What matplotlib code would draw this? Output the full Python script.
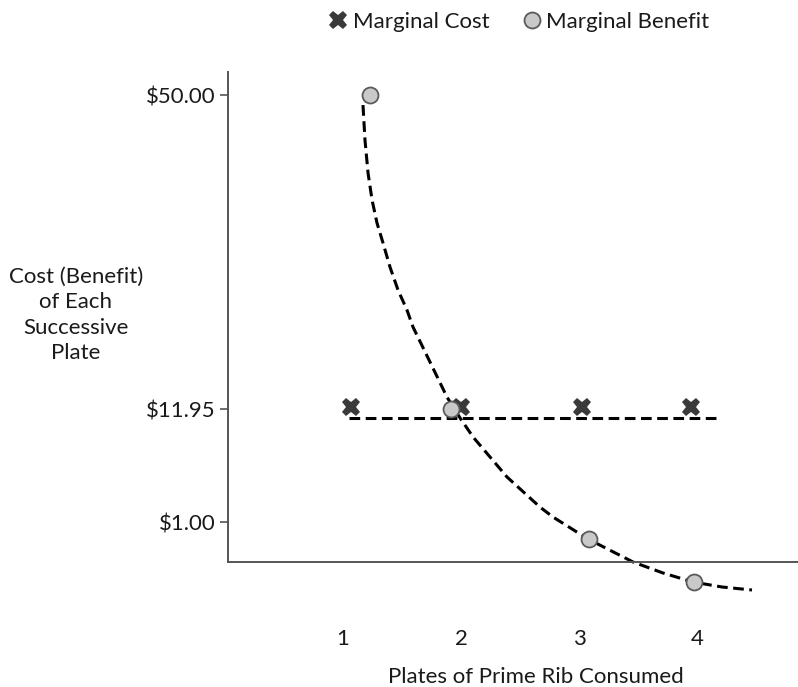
import numpy as np
import matplotlib
matplotlib.use("Agg")
import matplotlib.pyplot as plt
from matplotlib.lines import Line2D

plt.rcParams['font.family'] = ['Lato', 'DejaVu Sans']

# Plates of prime rib and the value of each successive plate
mb_plates = [1.23, 1.915, 3.085, 3.975]
mb_values = [50.0, 11.95, 0.58, -0.5]

mc_plates = [1.065, 1.997, 3.028, 3.947]
mc_values = [12.23, 12.23, 12.23, 12.23]

mc_line_x = [1.05, 4.19]
mc_line_y = [11.1, 11.1]

# Traced marginal-benefit curve
curve_x = [1.169, 1.186, 1.212, 1.246, 1.288, 1.339, 1.398, 1.466, 1.542,
           1.593, 1.737, 1.881, 1.992, 2.102, 2.390, 2.669, 2.780, 3.076,
           3.458, 3.712, 3.966, 4.212, 4.466]
curve_y = [48.79, 44.55, 40.55, 37.28, 34.49, 32.07, 29.16, 26.37, 23.95,
           21.89, 17.65, 13.40, 11.08, 9.24, 5.36, 2.45, 1.48, 0.575,
           0.0, -0.275, -0.5, -0.625, -0.7]

y_ticks = [1.00, 11.95, 50.00]
y_tick_labels = ['$1.00', '$11.95', '$50.00']
x_ticks = [1, 2, 3, 4]
x_tick_labels = ['1', '2', '3', '4']

# Schematic (piecewise linear) value axis
knot_vals = np.array([-2.0, 0.0, 1.0, 11.95, 50.0, 60.0])
knot_pos = np.array([-80.0, 0.0, 40.0, 153.0, 467.0, 549.5])


def fwd(v):
    return np.interp(v, knot_vals, knot_pos)


def inv(p):
    return np.interp(p, knot_pos, knot_vals)


FS = 16

fig = plt.figure(figsize=(7.98, 6.87), dpi=100)
ax = fig.add_axes([228 / 798, 85 / 687, 570 / 798, 530 / 687])
ax.set_yscale('function', functions=(fwd, inv))
ax.set_xlim(0.025, 4.856)
ax.set_ylim(-1.0, 52.8)

dark = '#1a1a1a'
axis_col = '#555555'

ax.plot(curve_x, curve_y, color='black', lw=2.2, dashes=(3.5, 1.8),
        solid_capstyle='butt', dash_capstyle='butt', zorder=2)
ax.plot(mc_line_x, mc_line_y, color='black', lw=2.2, dashes=(3.5, 1.8),
        dash_capstyle='butt', zorder=2)

ax.plot(mc_plates, mc_values, linestyle='none', marker='X', markersize=13,
        color='#3a3a3a', markeredgewidth=0, zorder=3)
ax.plot(mb_plates, mb_values, linestyle='none', marker='o', markersize=11.5,
        markerfacecolor='#c9c9c9', markeredgecolor='#5a5a5a',
        markeredgewidth=1.3, zorder=4)

for s in ['top', 'right']:
    ax.spines[s].set_visible(False)
ax.spines['bottom'].set_position(('data', 0))
ax.spines['left'].set_bounds(0, 52.8)
for s in ['left', 'bottom']:
    ax.spines[s].set_color(axis_col)
    ax.spines[s].set_linewidth(1.4)

ax.set_yticks(y_ticks)
ax.set_yticklabels(y_tick_labels)
ax.yaxis.set_minor_locator(matplotlib.ticker.NullLocator())
ax.tick_params(axis='y', length=6, width=1.2, color=axis_col, pad=3,
               labelsize=FS, labelcolor=dark)
ax.set_xticks(x_ticks)
ax.set_xticklabels(x_tick_labels)
ax.tick_params(axis='x', length=0, pad=48, labelsize=FS, labelcolor=dark)

ax.set_xlabel('Plates of Prime Rib Consumed', fontsize=FS, color=dark)
ax.xaxis.set_label_coords(0.540, -0.123)
ax.set_ylabel('Cost (Benefit)\nof Each\nSuccessive\nPlate', fontsize=FS,
              color=dark, rotation=0, ha='center', va='center',
              linespacing=1.35)
ax.yaxis.set_label_coords(-0.2667, 0.5415)

handles = [
    Line2D([], [], linestyle='none', marker='X', markersize=13,
           color='#3a3a3a', markeredgewidth=0, label='Marginal Cost'),
    Line2D([], [], linestyle='none', marker='o', markersize=11.5,
           markerfacecolor='#c9c9c9', markeredgecolor='#5a5a5a',
           markeredgewidth=1.3, label='Marginal Benefit'),
]
leg = fig.legend(handles=handles, loc='center', ncol=2, frameon=False,
                 bbox_to_anchor=(517 / 798, 1 - 22 / 687), fontsize=FS,
                 handletextpad=0.05, columnspacing=1.3, handlelength=1.2)
for t in leg.get_texts():
    t.set_color(dark)

fig.savefig('out.png', dpi=100)
